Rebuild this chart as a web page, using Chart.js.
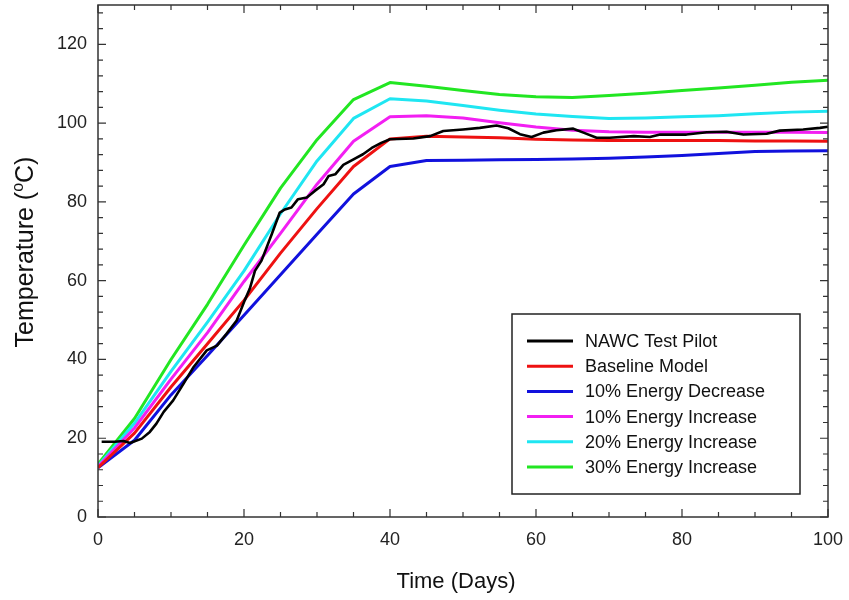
<!DOCTYPE html>
<html>
<head>
<meta charset="utf-8">
<script src="https://cdn.jsdelivr.net/npm/chart.js@4.4.0/dist/chart.umd.min.js"></script>
<style>
  html, body { margin: 0; padding: 0; background: #fff; }
  canvas { display: block; }
</style>
</head>
<body>
<canvas id="chart" width="849" height="600"></canvas>
<script>
// model runs, sampled every 5 days
const modelDays = [0, 5, 10, 15, 20, 25, 30, 35, 40, 45, 50, 55, 60, 65, 70, 75, 80, 85, 90, 95, 100];
const baseline   = [12.5, 21.3, 33.0, 44.0, 55.0, 67.0, 78.3, 89.0, 96.0, 96.7, 96.5, 96.3, 95.9, 95.7, 95.6, 95.6, 95.6, 95.6, 95.5, 95.5, 95.4];
const decrease10 = [12.5, 19.5, 31.0, 41.0, 51.2, 61.5, 71.8, 82.0, 89.0, 90.5, 90.6, 90.7, 90.8, 90.9, 91.1, 91.4, 91.8, 92.3, 92.8, 92.9, 93.0];
const increase10 = [12.8, 22.6, 35.0, 46.8, 59.8, 72.0, 84.5, 95.4, 101.6, 101.9, 101.3, 100.1, 99.0, 98.2, 97.8, 97.7, 97.7, 97.7, 97.7, 97.7, 97.6];
const increase20 = [13.0, 23.8, 37.0, 49.5, 62.5, 77.0, 90.4, 101.2, 106.2, 105.6, 104.5, 103.3, 102.3, 101.7, 101.2, 101.3, 101.6, 101.9, 102.4, 102.8, 103.0];
const increase30 = [13.4, 25.0, 40.0, 54.0, 69.0, 83.5, 95.8, 106.0, 110.3, 109.4, 108.3, 107.3, 106.7, 106.5, 107.0, 107.6, 108.3, 108.9, 109.6, 110.4, 110.9];

// measured pilot temperatures
const pilotDays  = [0.5, 2.3, 3.5, 4.4, 6.0, 7.1, 8.0, 9.0, 10.3, 11.7, 13.1, 14.9, 16.3, 17.6, 19.0, 20.1, 20.8, 21.5, 22.4, 23.8,
                    24.9, 25.6, 26.5, 27.4, 28.6, 29.7, 30.9, 31.6, 32.5, 33.6, 35.0, 36.3, 37.5, 38.8, 40.0, 43.2, 45.5, 47.3, 50.0, 52.3,
                    54.6, 56.2, 57.8, 59.4, 61.0, 62.8, 65.1, 66.5, 68.3, 70.1, 73.4, 75.6, 77.0, 80.6, 83.4, 86.1, 88.4, 91.6, 93.4, 96.6,
                    98.9, 100];
const pilotTemps = [19.1, 19.1, 19.3, 18.8, 19.9, 21.6, 23.7, 26.7, 29.6, 33.8, 38.1, 42.3, 43.5, 46.5, 49.9, 55.0, 58.0, 62.5, 65.1, 71.8,
                    77.3, 78.1, 78.6, 80.7, 81.1, 82.8, 84.5, 86.6, 87.0, 89.4, 90.8, 92.1, 93.7, 95.0, 95.9, 96.1, 96.7, 98.0, 98.4, 98.8,
                    99.4, 98.7, 97.2, 96.5, 97.6, 98.2, 98.6, 97.6, 96.3, 96.3, 96.7, 96.5, 97.1, 97.1, 97.7, 97.8, 97.1, 97.3, 98.1, 98.4,
                    98.8, 99.1];

const seriesNames = ['NAWC Test Pilot', 'Baseline Model', '10% Energy Decrease', '10% Energy Increase', '20% Energy Increase', '30% Energy Increase'];
const seriesColors = ['#000000', '#ee1111', '#1111dd', '#f21ff2', '#1fe6f2', '#22e622'];

const xTicks = [0, 20, 40, 60, 80, 100];
const yTicks = [0, 20, 40, 60, 80, 100, 120];

const FONT = '"Liberation Sans", Arial, sans-serif';

function pts(xs, ys) {
  return xs.map((x, i) => ({x: x, y: ys[i]}));
}

const allData = [
  pts(pilotDays, pilotTemps),
  pts(modelDays, baseline),
  pts(modelDays, decrease10),
  pts(modelDays, increase10),
  pts(modelDays, increase20),
  pts(modelDays, increase30)
];

function noPadding(s) {
  s.paddingTop = 0; s.paddingBottom = 0; s.paddingLeft = 0; s.paddingRight = 0;
}

// frame, inward ticks, axis titles and boxed legend
const decorations = {
  id: 'decorations',
  afterDraw(chart) {
    const ctx = chart.ctx;
    const a = chart.chartArea;
    const x = chart.scales.x, y = chart.scales.y;
    ctx.save();
    ctx.strokeStyle = '#333';
    ctx.lineWidth = 1.5;
    ctx.strokeRect(a.left, a.top, a.right - a.left, a.bottom - a.top);

    ctx.beginPath();
    for (let d = 0; d <= 100; d += 5) {
      const px = x.getPixelForValue(d);
      const len = d % 20 === 0 ? 8 : 5;
      ctx.moveTo(px, a.bottom); ctx.lineTo(px, a.bottom - len);
      ctx.moveTo(px, a.top); ctx.lineTo(px, a.top + len);
    }
    for (let t = 0; t <= 128; t += 4) {
      const py = y.getPixelForValue(t);
      const len = t % 20 === 0 ? 8 : 5;
      ctx.moveTo(a.left, py); ctx.lineTo(a.left + len, py);
      ctx.moveTo(a.right, py); ctx.lineTo(a.right - len, py);
    }
    ctx.lineWidth = 1.2;
    ctx.stroke();

    // axis titles
    ctx.fillStyle = '#111';
    ctx.textBaseline = 'alphabetic';
    ctx.textAlign = 'center';
    ctx.font = '22px ' + FONT;
    ctx.fillText('Time (Days)', 456, 588);

    ctx.save();
    ctx.translate(33, 252);
    ctx.rotate(-Math.PI / 2);
    ctx.textAlign = 'left';
    const big = '25px ' + FONT, small = '16px ' + FONT;
    ctx.font = big;
    const w1 = ctx.measureText('Temperature (').width;
    const w3 = ctx.measureText('C)').width;
    ctx.font = small;
    const w2 = ctx.measureText('o').width;
    let sx = -(w1 + w2 + w3) / 2;
    ctx.font = big;
    ctx.fillText('Temperature (', sx, 0);
    sx += w1;
    ctx.font = small;
    ctx.fillText('o', sx, -10);
    sx += w2;
    ctx.font = big;
    ctx.fillText('C)', sx, 0);
    ctx.restore();

    // legend
    const lx = 512, ly = 314, lw = 288, lh = 180;
    ctx.fillStyle = '#fff';
    ctx.fillRect(lx, ly, lw, lh);
    ctx.strokeStyle = '#222';
    ctx.lineWidth = 1.5;
    ctx.strokeRect(lx, ly, lw, lh);
    ctx.font = '18px ' + FONT;
    ctx.textAlign = 'left';
    ctx.textBaseline = 'middle';
    chart.data.datasets.forEach((ds, i) => {
      const ry = 341 + i * 25.2;
      ctx.strokeStyle = ds.borderColor;
      ctx.lineWidth = 3;
      ctx.beginPath();
      ctx.moveTo(527, ry);
      ctx.lineTo(573, ry);
      ctx.stroke();
      ctx.fillStyle = '#111';
      ctx.fillText(ds.label, 585, ry + 1);
    });
    ctx.restore();
  }
};

new Chart(document.getElementById('chart'), {
  type: 'line',
  data: {
    datasets: allData.map((d, i) => ({
      label: seriesNames[i],
      data: d,
      borderColor: seriesColors[i],
      backgroundColor: seriesColors[i],
      borderWidth: i === 0 ? 2.6 : 3,
      fill: false,
      pointRadius: 0,
      tension: 0
    }))
  },
  options: {
    responsive: false,
    animation: false,
    devicePixelRatio: 1,
    layout: {padding: {top: 5, right: 21, left: 0, bottom: 0}},
    plugins: {legend: {display: false}, tooltip: {enabled: false}},
    elements: {line: {borderJoinStyle: 'round'}},
    scales: {
      x: {
        type: 'linear', min: 0, max: 100,
        grid: {display: false}, border: {display: false},
        ticks: {padding: 4, color: '#222', font: {family: FONT, size: 18}, maxRotation: 0},
        afterBuildTicks(s) { s.ticks = xTicks.map(v => ({value: v})); },
        afterFit(s) { s.height = 83; noPadding(s); }
      },
      y: {
        type: 'linear', min: 0, max: 130,
        grid: {display: false}, border: {display: false},
        ticks: {padding: 3, color: '#222', font: {family: FONT, size: 18}},
        afterBuildTicks(s) { s.ticks = yTicks.map(v => ({value: v})); },
        afterFit(s) { s.width = 98; noPadding(s); }
      }
    }
  },
  plugins: [decorations]
});
</script>
</body>
</html>
